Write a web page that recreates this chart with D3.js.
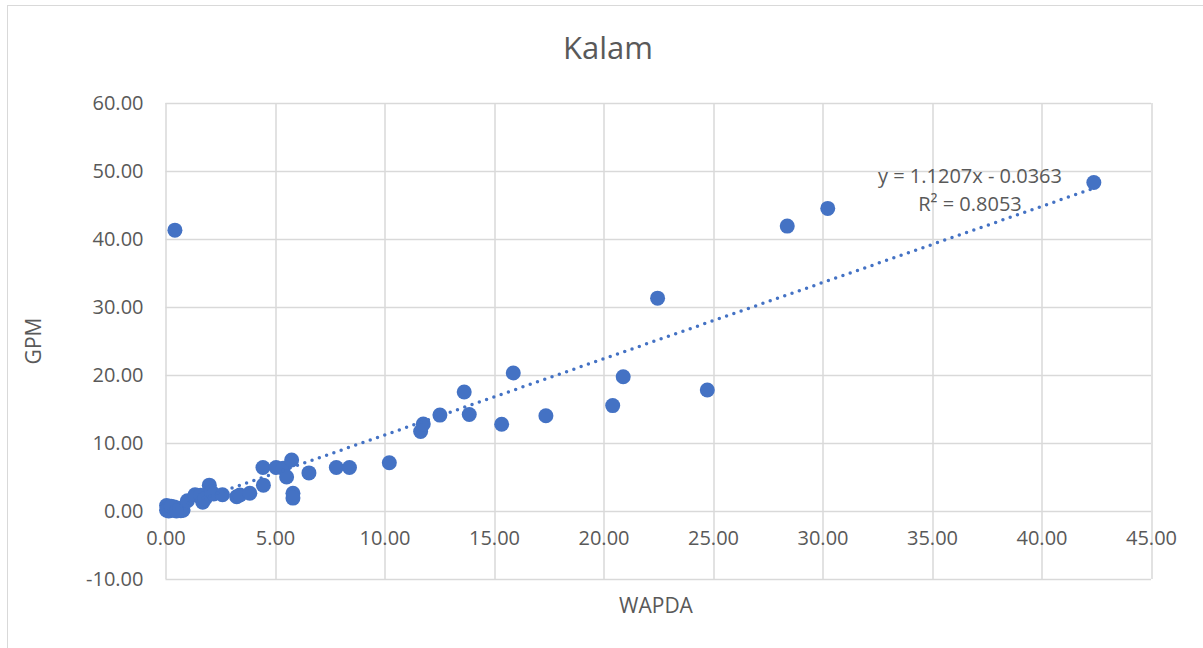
<!DOCTYPE html>
<html>
<head>
    <title>Kalam</title>
    <script src="https://d3js.org/d3.v7.min.js"></script>
    <style>
        body { margin: 0; background: #fff; }
        text { font-family: "Open Sans", sans-serif; fill: #595959; }
    </style>
</head>
<body>
    <div id="chart"></div>

    <script>
        // WAPDA (x) vs GPM (y) readings
        const wapda = [
            0.05, 0.1, 0.2, 0.3, 0.4, 0.5, 0.6, 0.7, 0.15, 0.35, 0.8, 0.05, 0.25, 0.5,
            1.0, 1.35, 1.6, 1.7, 1.8, 2.0, 2.1, 2.2, 2.6, 3.25, 3.4, 3.85,
            4.45, 4.47, 5.05, 5.37, 5.53, 5.76, 5.82, 5.82, 6.55, 7.8, 8.4,
            10.22, 11.65, 11.77, 12.53, 13.64, 13.87, 15.35, 15.88, 17.37,
            20.42, 20.9, 22.47, 24.74, 28.39, 30.24, 42.39, 0.43
        ];
        const gpm = [
            0.8, 0.3, 0.5, 0.1, 0.6, 0.2, 0.4, 0.05, 0.0, 0.2, 0.1, 0.1, 0.7, 0.0,
            1.5, 2.4, 2.3, 1.3, 1.8, 3.8, 2.8, 2.5, 2.4, 2.1, 2.35, 2.6,
            6.4, 3.8, 6.4, 6.3, 5.0, 7.5, 2.6, 1.9, 5.6, 6.4, 6.4,
            7.1, 11.7, 12.8, 14.1, 17.5, 14.2, 12.75, 20.3, 14.0,
            15.5, 19.75, 31.3, 17.8, 41.9, 44.5, 48.3, 41.3
        ];
        const points = wapda.map((x, i) => ({ x: x, y: gpm[i] }));

        // Linear trendline as shown on the chart
        const slope = 1.1207, intercept = -0.0363;
        const eqLabel = "y = 1.1207x - 0.0363";
        const r2Label = "R² = 0.8053";

        const xTicks = [0, 5, 10, 15, 20, 25, 30, 35, 40, 45];
        const yTicks = [-10, 0, 10, 20, 30, 40, 50, 60];

        // plain hyphen for negatives, like the original
        const fmt = d => d.toFixed(2);

        const W = 1203, H = 648;
        const margin = { top: 103, right: 52, bottom: 69, left: 165.5 };
        const width = W - margin.left - margin.right,
            height = H - margin.top - margin.bottom;

        const svg = d3.select("#chart")
            .append("svg")
            .attr("width", W)
            .attr("height", H);

        // chart border
        svg.append("rect")
            .attr("x", 7.5).attr("y", 5.5)
            .attr("width", W).attr("height", H)
            .attr("fill", "none")
            .attr("stroke", "#d9d9d9");

        const g = svg.append("g")
            .attr("transform", `translate(${margin.left},${margin.top})`);

        const x = d3.scaleLinear().domain([0, 45]).range([0, width]);
        const y = d3.scaleLinear().domain([-10, 60]).range([height, 0]);

        // gridlines
        g.append("g")
            .selectAll("line.h")
            .data(yTicks)
            .enter().append("line")
            .attr("x1", 0).attr("x2", width)
            .attr("y1", d => Math.round(y(d)) + 0.5)
            .attr("y2", d => Math.round(y(d)) + 0.5)
            .attr("stroke", "#d9d9d9")
            .attr("stroke-width", 1.5);

        g.append("g")
            .selectAll("line.v")
            .data(xTicks)
            .enter().append("line")
            .attr("y1", 0).attr("y2", height)
            .attr("x1", d => Math.round(x(d)) + 0.5)
            .attr("x2", d => Math.round(x(d)) + 0.5)
            .attr("stroke", "#d9d9d9")
            .attr("stroke-width", 1.5);

        // x axis labels sit below the zero line
        const xAxis = g.append("g")
            .attr("transform", `translate(0,${y(0)})`)
            .call(d3.axisBottom(x).tickValues(xTicks).tickFormat(fmt).tickSize(0).tickPadding(20));
        xAxis.select(".domain").remove();
        xAxis.selectAll("text")
            .style("font-size", "20px")
            .style("font-family", "Open Sans, sans-serif")
            .attr("fill", "#595959");

        const yAxis = g.append("g")
            .call(d3.axisLeft(y).tickValues(yTicks).tickFormat(fmt).tickSize(0).tickPadding(22));
        yAxis.select(".domain").remove();
        yAxis.selectAll("text")
            .style("font-size", "20px")
            .style("font-family", "Open Sans, sans-serif")
            .attr("fill", "#595959");

        // points
        g.selectAll("circle")
            .data(points)
            .enter().append("circle")
            .attr("cx", d => x(d.x))
            .attr("cy", d => y(d.y))
            .attr("r", 7.5)
            .attr("fill", "#4472c4");

        // dotted trendline over the data range
        const xr = d3.extent(points, d => d.x);
        g.append("line")
            .attr("x1", x(xr[0])).attr("y1", y(slope * xr[0] + intercept))
            .attr("x2", x(xr[1])).attr("y2", y(slope * xr[1] + intercept))
            .attr("stroke", "#4472c4")
            .attr("stroke-width", 3.5)
            .attr("stroke-linecap", "round")
            .attr("stroke-dasharray", "0 7.7");

        // equation labels
        svg.append("text")
            .attr("x", 970).attr("y", 183)
            .attr("text-anchor", "middle")
            .style("font-size", "20px")
            .text(eqLabel);
        svg.append("text")
            .attr("x", 970).attr("y", 211)
            .attr("text-anchor", "middle")
            .style("font-size", "20px")
            .text(r2Label);

        // title and axis titles
        svg.append("text")
            .attr("x", 608).attr("y", 59)
            .attr("text-anchor", "middle")
            .style("font-size", "31px")
            .text("Kalam");

        svg.append("text")
            .attr("x", 656).attr("y", 613)
            .attr("text-anchor", "middle")
            .style("font-size", "21px")
            .text("WAPDA");

        svg.append("text")
            .attr("transform", "translate(41,341) rotate(-90)")
            .attr("text-anchor", "middle")
            .style("font-size", "21px")
            .text("GPM");
    </script>
</body>
</html>
